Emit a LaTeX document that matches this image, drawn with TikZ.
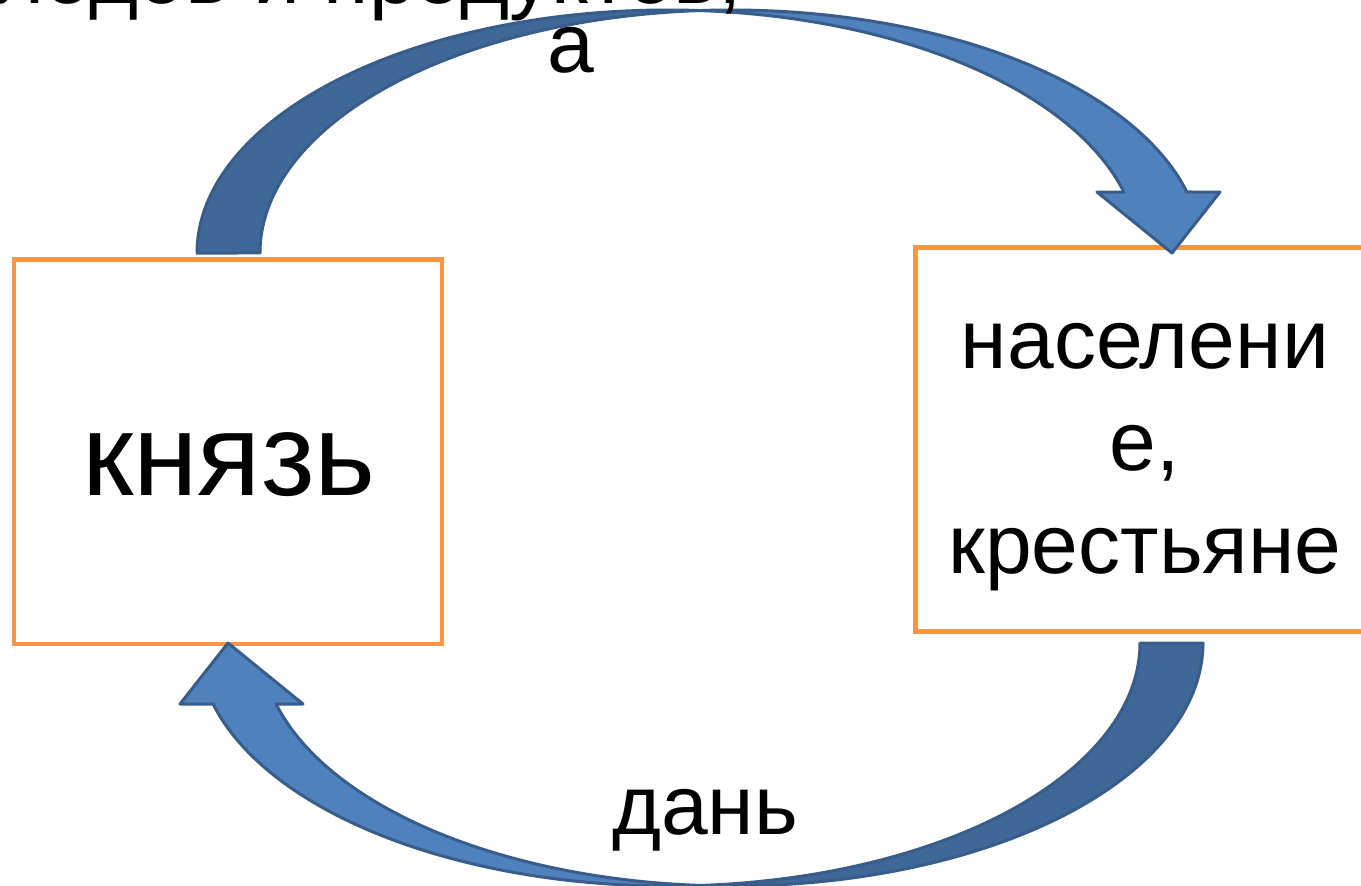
\documentclass[tikz,border=0pt]{standalone}
\usepackage{fontspec}
\setmainfont{Liberation Sans}
\definecolor{boxorange}{HTML}{F79646}
\definecolor{arrowlight}{HTML}{4F81BD}
\definecolor{arrowdark}{HTML}{3F6797}
\definecolor{arrowline}{HTML}{385D8A}
\tikzset{
  framebox/.style={draw=boxorange, line width=4.5pt, fill=white, rectangle, inner sep=0pt},
  arrowback/.style={fill=arrowdark, draw=arrowline, line width=3pt, line join=round},
  arrowfront/.style={fill=arrowlight, draw=arrowline, line width=3pt, line join=round},
  bigtext/.style={font=\fontsize{84}{102.5}\selectfont, inner sep=0pt, anchor=base},
}
\newcommand\drawcurvearrow{%
  \draw[arrowback] plot[domain=180:86.16, samples=90] ({668+471*cos(\x)},{253-243*sin(\x)})
     -- plot[domain=93.84:180, samples=90] ({731+471*cos(\x)},{253-243*sin(\x)}) -- cycle;
  \draw[arrowfront] plot[domain=93.84:14.54, samples=90] ({731+471*cos(\x)},{253-243*sin(\x)})
     -- (1220,192) -- (1172,253) -- (1097,192)
     -- plot[domain=14.54:86.16, samples=90] ({668+471*cos(\x)},{253-243*sin(\x)}) -- cycle;
}
\begin{document}
\begin{tikzpicture}[x=1pt,y=-1pt]
\useasboundingbox (0,0) rectangle (1361,886);
\fill[white] (0,0) rectangle (1361,886);
% boxes
\node[framebox, minimum width=428pt, minimum height=384.5pt] (knyaz) at (228,451.75) {};
\node[framebox, minimum width=460.5pt, minimum height=384pt] (naselenie) at (1145.75,439.5) {};
% arrows
\begin{scope}
  \drawcurvearrow
\end{scope}
\begin{scope}[rotate around={180:(700,448)}]
  \drawcurvearrow
\end{scope}
% texts
\node[bigtext, font=\fontsize{117}{140}\selectfont] (knyaztext) at (229,495) {князь};
\node[bigtext] (naseltext) at (1145,368) {\begin{tabular}[t]{@{}c@{}}населени\\е,\\крестьяне\end{tabular}};
\node[bigtext, anchor=base east] (toptext) at (742,3) {плодов и продуктов,};
\node[bigtext] (topa) at (571,72) {а};
\node[bigtext] (dan) at (705,834) {дань};
\end{tikzpicture}
\end{document}
